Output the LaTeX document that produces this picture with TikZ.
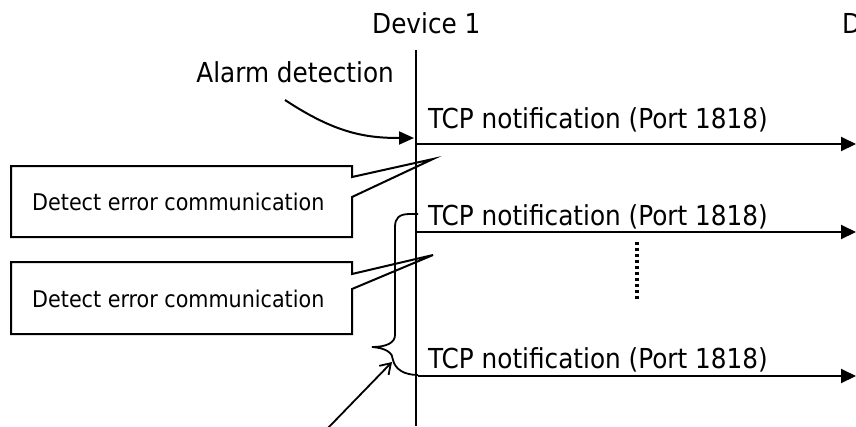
\documentclass[tikz,border=0pt]{standalone}
\usepackage{fontspec}
\setmainfont{DejaVu Sans Condensed}
\usetikzlibrary{arrows.meta}
\tikzset{
  lbl/.style={inner sep=0pt, font=\fontsize{27.5}{33}\selectfont},
  small/.style={inner sep=0pt, font=\fontsize{23}{28}\selectfont},
  msg/.style={line width=2pt, -{Triangle[length=15pt,width=14pt]}},
  callout/.style={line width=2pt, line join=miter},
}
\begin{document}
\begin{tikzpicture}[x=1pt,y=-1pt]
\clip (0,0) rectangle (856,426);
\useasboundingbox (0,0) rectangle (856,426);
% headers
\node[lbl, anchor=base west] (dev1) at (372,33) {Device 1};
\node[lbl, anchor=base west] (dev2) at (842,33) {Device 2};
% lifeline
\coordinate (lltop) at (416,50);
\coordinate (llbot) at (416,426);
\draw[line width=2.2pt] (lltop) -- (llbot);
% alarm detection
\node[lbl, anchor=base east] (alarm) at (394,82) {Alarm detection};
\coordinate (alS) at (285,100);
\coordinate (alE) at (414,138);
\draw[line width=2pt, -{Triangle[length=15pt,width=13pt]}] (alS) .. controls (335,133) and (365,138) .. (alE);
% messages
\coordinate (m1s) at (416,144); \coordinate (m1e) at (856,144);
\coordinate (m2s) at (416,232); \coordinate (m2e) at (856,232);
\coordinate (m3s) at (418,376); \coordinate (m3e) at (856,376);
\draw[msg] (m1s) -- (m1e);
\draw[msg] (m2s) -- (m2e);
\draw[msg] (m3s) -- (m3e);
\node[lbl, anchor=base west] (t1) at (428,128) {TCP notification (Port 1818)};
\node[lbl, anchor=base west] (t2) at (428,225) {TCP notification (Port 1818)};
\node[lbl, anchor=base west] (t3) at (428,368) {TCP notification (Port 1818)};
% dotted
\coordinate (d1) at (637,242); \coordinate (d2) at (637,300);
\draw[line width=3.5pt, dash pattern=on 3pt off 3pt] (d1) -- (d2);
% callouts
\draw[callout] (11,166) -- (352,166) -- (352,177) -- (433,159) -- (352,197) -- (352,237) -- (11,237) -- cycle;
\node[small, anchor=base west] (c1) at (32,210) {Detect error communication};
\draw[callout] (11,262) -- (352,262) -- (352,274) -- (433,255) -- (352,289) -- (352,334) -- (11,334) -- cycle;
\node[small, anchor=base west] (c2) at (32,307) {Detect error communication};
% brace
\draw[line width=1.8pt] (418,214) -- (410,214) .. controls (399,214) and (395,218) .. (395,227)
  -- (395,335) .. controls (395,343) and (386,347) .. (372,347)
  .. controls (386,348) and (393,353) .. (393,360)
  .. controls (395,369) and (404,375) .. (418,375);
% pointer arrow
\coordinate (pa) at (328,428);
\coordinate (pb) at (392,362);
\draw[line width=1.8pt, -{Straight Barb[length=10pt,width=13pt]}] (pa) -- (pb);
\end{tikzpicture}
\end{document}
